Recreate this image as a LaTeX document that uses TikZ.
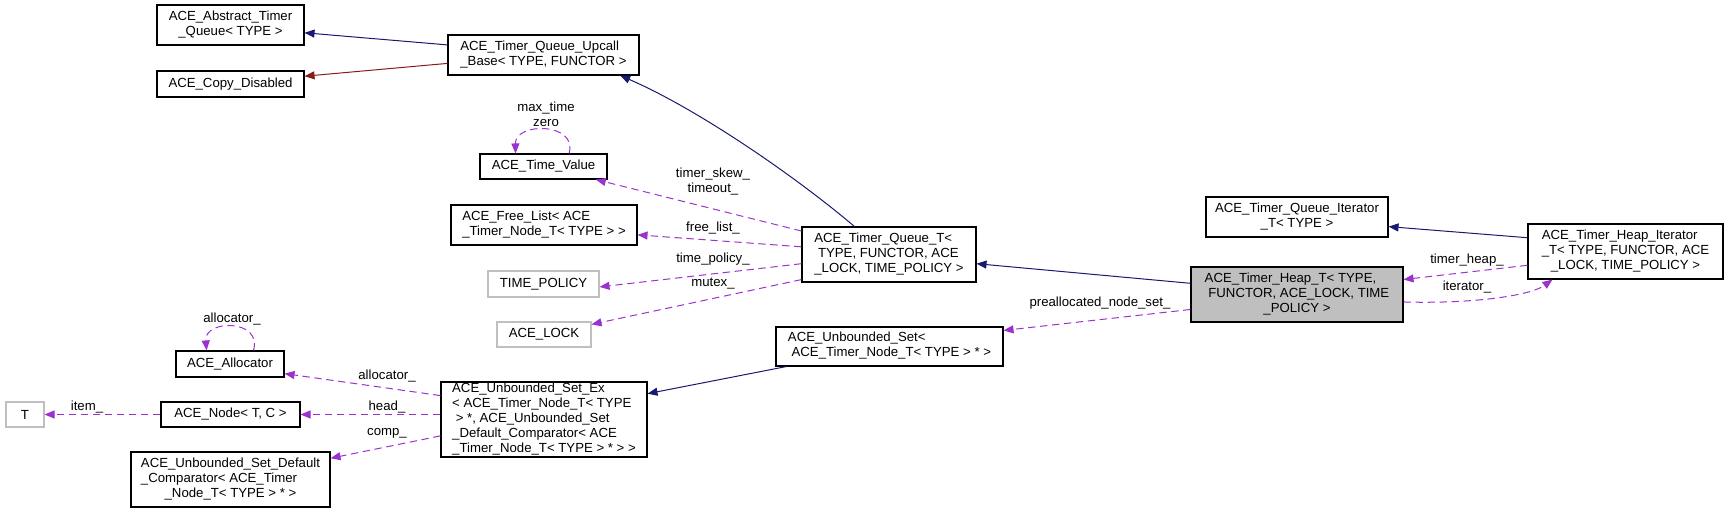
\documentclass[tikz,border=0pt]{standalone}
\usepackage{xcolor}
\usepackage{fontspec}
\setmainfont{Liberation Sans}
\definecolor{midnight}{HTML}{191970}
\definecolor{firebrick}{HTML}{8B1A1A}
\definecolor{orchid}{HTML}{9A32CD}
\definecolor{grey75}{HTML}{BFBFBF}
\usepackage{tikz}
\usetikzlibrary{arrows.meta}
\newcommand{\lbl}[1]{\begin{tabular}{@{}l@{}}#1\end{tabular}}
\newcommand{\lastline}[1]{\multicolumn{1}{@{}c@{}}{#1}}

\begin{document}
\begin{tikzpicture}[x=0.75pt, y=-0.75pt,
        font=\fontsize{9.9}{11.25}\selectfont,
        classbox/.style={draw, line width=0.8pt, inner sep=0pt, align=center},
        extbox/.style={classbox, draw=grey75},
        focusbox/.style={classbox, fill=grey75},
        edgelabel/.style={inner sep=0pt, align=center},
        inheritarrow/.style={draw=midnight, line width=0.75pt, -{Triangle[length=7.5pt, width=6pt]}, midnight},
        privatearrow/.style={inheritarrow, draw=firebrick, firebrick},
        usearrow/.style={draw=orchid, line width=0.75pt, dash pattern=on 5.5pt off 3.5pt, -{Triangle[length=7.5pt, width=6pt]}, orchid}]
            \useasboundingbox (0, 0) rectangle (1728, 513);

            \node[classbox, minimum width=110.25pt, minimum height=30pt] (abstract) at (230.5, 25)
                {\lbl{ACE\_Abstract\_Timer\\ \lastline{\_Queue< TYPE >}}};
            \node[classbox, minimum width=110.25pt, minimum height=19.5pt] (copy) at (230.5, 84)
                {ACE\_Copy\_Disabled};
            \node[classbox, minimum width=143.25pt, minimum height=30pt] (upcall) at (543.5, 55)
                {\lbl{ACE\_Timer\_Queue\_Upcall\\ \lastline{\_Base< TYPE, FUNCTOR >}}};
            \node[classbox, minimum width=95.25pt, minimum height=18.75pt] (timevalue) at (543.5, 166.5)
                {ACE\_Time\_Value};
            \node[classbox, minimum width=139.5pt, minimum height=30pt] (freelist) at (544, 225)
                {\lbl{ACE\_Free\_List< ACE\\ \lastline{\_Timer\_Node\_T< TYPE > >}}};
            \node[extbox, minimum width=83.25pt, minimum height=19.5pt] (timepolicy) at (543.5, 284)
                {TIME\_POLICY};
            \node[extbox, minimum width=70.5pt, minimum height=18.75pt] (lock) at (544, 334.5)
                {ACE\_LOCK};
            \node[classbox, minimum width=130.5pt, minimum height=41.25pt] (queueT) at (889, 254.5)
                {\lbl{ACE\_Timer\_Queue\_T<\\ \ TYPE, FUNCTOR, ACE\\ \lastline{\_LOCK, TIME\_POLICY >}}};
            \node[focusbox, minimum width=159pt, minimum height=41.25pt] (heapT) at (1297, 294.5)
                {\lbl{ACE\_Timer\_Heap\_T< TYPE,\\ \ FUNCTOR, ACE\_LOCK, TIME\\ \lastline{\_POLICY >}}};
            \node[classbox, minimum width=136.5pt, minimum height=30pt] (queueIter) at (1297, 217)
                {\lbl{ACE\_Timer\_Queue\_Iterator\\ \lastline{\_T< TYPE >}}};
            \node[classbox, minimum width=146.25pt, minimum height=41.25pt] (heapIter) at (1625.5, 251.5)
                {\lbl{ACE\_Timer\_Heap\_Iterator\\ \_T< TYPE, FUNCTOR, ACE\\ \lastline{\_LOCK, TIME\_POLICY >}}};
            \node[classbox, minimum width=170.25pt, minimum height=29.25pt] (uset) at (889.5, 346.5)
                {\lbl{ACE\_Unbounded\_Set<\\ \lastline{\ ACE\_Timer\_Node\_T< TYPE > * >}}};
            \node[classbox, minimum width=154.5pt, minimum height=56.25pt] (usetEx) at (544, 419.5)
                {\lbl{ACE\_Unbounded\_Set\_Ex\\ < ACE\_Timer\_Node\_T< TYPE\\ \ > *, ACE\_Unbounded\_Set\\ \_Default\_Comparator< ACE\\ \lastline{\_Timer\_Node\_T< TYPE > * > >}}};
            \node[classbox, minimum width=81pt, minimum height=19.5pt] (allocator) at (230, 364)
                {ACE\_Allocator};
            \node[classbox, minimum width=104.25pt, minimum height=18.75pt] (acenode) at (230.5, 414.5)
                {ACE\_Node< T, C >};
            \node[extbox, minimum width=28.5pt, minimum height=18.75pt] (T) at (25, 414.5)
                {T};
            \node[classbox, minimum width=149.25pt, minimum height=41.25pt] (comparator) at (230.5, 479.5)
                {\lbl{ACE\_Unbounded\_Set\_Default\\ \_Comparator< ACE\_Timer\\ \lastline{\_Node\_T< TYPE > * >}}};

            \draw[inheritarrow] (upcall.174) -- (abstract.-6);
            \draw[privatearrow] (upcall.185) -- (copy.6);
            \draw[inheritarrow] (queueT.141) .. controls (800, 180) and (700, 110) .. (upcall.-15);
            \draw[inheritarrow] (heapT.174) -- (queueT.-6);
            \draw[inheritarrow] (heapIter.172) -- (queueIter.-6);
            \draw[inheritarrow] (uset.191) -- (usetEx.14);

            \draw[usearrow] (timevalue.27) .. controls (578, 122) and (515, 122) .. (timevalue.155);
            \node[edgelabel] (lmax) at (546, 114) {max\_time\\zero};
            \draw[usearrow] (queueT.165) -- (timevalue.-14);
            \node[edgelabel] (lskew) at (713, 182) {timer\_skew\_\\timeout\_};
            \draw[usearrow] (queueT.175) -- (freelist.-6);
            \node[edgelabel] (lfree) at (713, 228) {free\_list\_};
            \draw[usearrow] (queueT.186) -- (timepolicy.-3);
            \node[edgelabel] (lpolicy) at (713, 259) {time\_policy\_};
            \draw[usearrow] (queueT.196) -- (lock.12);
            \node[edgelabel] (lmutex) at (713, 284) {mutex\_};

            \draw[usearrow] (heapT.188) -- (uset.8);
            \node[edgelabel] (lprealloc) at (1100, 303) {preallocated\_node\_set\_};
            \draw[usearrow] (heapIter.188) -- (heapT.8);
            \node[edgelabel] (lheap) at (1467, 260) {timer\_heap\_};
            \draw[usearrow] (heapT.-4) .. controls (1470, 304) and (1530, 296) .. (heapIter.201);
            \node[edgelabel] (liter) at (1467, 287) {iterator\_};

            \draw[usearrow] (allocator.30) .. controls (263, 319) and (204, 319) .. (allocator.150);
            \node[edgelabel] (lselfalloc) at (232, 319) {allocator\_};
            \draw[usearrow] (usetEx.167) -- (allocator.-10);
            \node[edgelabel] (lalloc) at (387, 376) {allocator\_};
            \draw[usearrow] (acenode.east -| usetEx.west) -- (acenode.east);
            \node[edgelabel] (lhead) at (387, 407) {head\_};
            \draw[usearrow] (usetEx.189) -- (comparator.12);
            \node[edgelabel] (lcomp) at (387, 433) {comp\_};
            \draw[usearrow] (acenode.west) -- (T.east);
            \node[edgelabel] (litem) at (87, 407) {item\_};
        \end{tikzpicture}
\end{document}
